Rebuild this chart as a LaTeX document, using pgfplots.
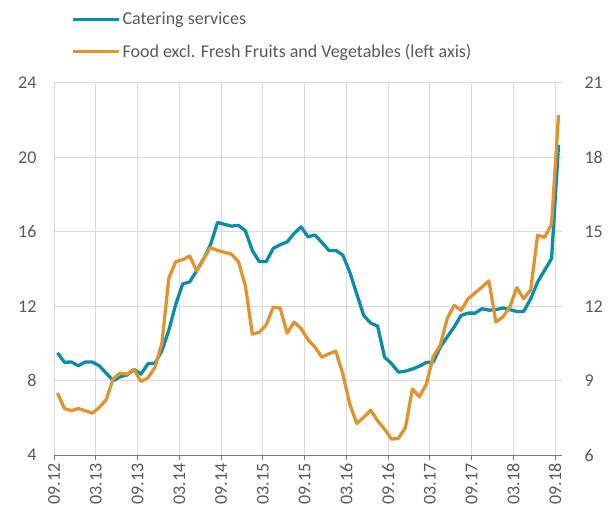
\documentclass[border=0pt]{standalone}
\usepackage{pgfplots}
\usepackage{pgfplotstable}
\pgfplotsset{compat=1.18}
\usepackage{fontspec}
\setmainfont{Carlito}
\definecolor{tealC}{HTML}{0B8CA9}
\definecolor{orangeC}{HTML}{E09430}
\definecolor{txt}{HTML}{595959}
\definecolor{gridC}{HTML}{D9D9D9}

\pgfplotstableread{
x y
0.5 10.12
1.5 9.74
2.5 9.75
3.5 9.6
4.5 9.75
5.5 9.75
6.5 9.6
7.5 9.3
8.5 9.0
9.5 9.15
10.5 9.23
11.5 9.45
12.5 9.26
13.5 9.68
14.5 9.7
15.5 10.2
16.5 11.03
17.5 12.08
18.5 12.9
19.5 12.98
20.5 13.43
21.5 13.91
22.5 14.48
23.5 15.38
24.5 15.3
25.5 15.23
26.5 15.26
27.5 15.04
28.5 14.25
29.5 13.8
30.5 13.8
31.5 14.33
32.5 14.48
33.5 14.59
34.5 14.93
35.5 15.2
36.5 14.8
37.5 14.87
38.5 14.57
39.5 14.25
40.5 14.25
41.5 14.06
42.5 13.38
43.5 12.5
44.5 11.63
45.5 11.32
46.5 11.2
47.5 9.95
48.5 9.68
49.5 9.34
50.5 9.38
51.5 9.47
52.5 9.58
53.5 9.73
54.5 9.75
55.5 10.35
56.5 10.76
57.5 11.16
58.5 11.63
59.5 11.72
60.5 11.72
61.5 11.9
62.5 11.84
63.5 11.86
64.5 11.93
65.5 11.86
66.5 11.79
67.5 11.79
68.5 12.3
69.5 12.98
70.5 13.45
71.5 13.92
72.5 18.5
}\tealdata

\pgfplotstableread{
x y
0.5 7.33
1.5 6.5
2.5 6.38
3.5 6.5
4.5 6.38
5.5 6.25
6.5 6.55
7.5 6.97
8.5 8.1
9.5 8.4
10.5 8.35
11.5 8.6
12.5 7.95
13.5 8.15
14.5 8.7
15.5 10.0
16.5 13.5
17.5 14.4
18.5 14.5
19.5 14.7
20.5 13.9
21.5 14.55
22.5 15.15
23.5 15.0
24.5 14.9
25.5 14.8
26.5 14.4
27.5 13.1
28.5 10.5
29.5 10.6
30.5 11.0
31.5 11.95
32.5 11.9
33.5 10.55
34.5 11.15
35.5 10.8
36.5 10.2
37.5 9.8
38.5 9.26
39.5 9.44
40.5 9.58
41.5 8.36
42.5 6.74
43.5 5.7
44.5 6.02
45.5 6.41
46.5 5.84
47.5 5.39
48.5 4.85
49.5 4.9
50.5 5.48
51.5 7.55
52.5 7.13
53.5 7.8
54.5 9.3
55.5 9.9
56.5 11.33
57.5 12.05
58.5 11.78
59.5 12.4
60.5 12.71
61.5 13.03
62.5 13.36
63.5 11.15
64.5 11.42
65.5 11.96
66.5 13.0
67.5 12.4
68.5 12.89
69.5 15.82
70.5 15.7
71.5 16.41
72.5 22.28
}\orangedata

\pgfplotsset{
  base/.style={
    width=508pt, height=372pt, scale only axis,
    xmin=0, xmax=73,
    ticklabel style={font=\fontsize{18}{21}\selectfont, text=txt},
    y axis line style={draw=none},
    ytick style={draw=none},
    yticklabel style={/pgf/number format/assume math mode=true},
  }
}

\begin{document}
\begin{tikzpicture}
\begin{axis}[base,
  ymin=6, ymax=21, ytick={6,9,12,15,18,21},
  axis y line*=right,
  axis x line*=bottom,
  x axis line style={draw=txt!80, line width=0.9pt},
  xtick={0,6,...,72},
  xticklabels={09.12,03.13,09.13,03.14,09.14,03.15,09.15,03.16,09.16,03.17,09.17,03.18,09.18},
  xticklabel style={rotate=90, anchor=east},
  x tick style={draw=txt!80, line width=0.9pt},
  tick align=outside,
  major tick length=5pt,
  yticklabel style={xshift=14pt},
  grid=major,
  grid style={draw=gridC, line width=1pt},
  legend style={at={(rel axis cs:0,1)}, anchor=south west, xshift=14pt, yshift=20pt,
    draw=none, fill=none, font=\fontsize{18}{21}\selectfont, text=txt,
    row sep=14pt, legend cell align=left},
  legend image code/.code={\draw[#1] (0pt,0pt) -- (46pt,0pt);},
]
\addplot[tealC, line width=3.3pt, line join=round] table {\tealdata};
\addlegendentry{Catering services}
\addlegendimage{orangeC, line width=3.3pt}
\addlegendentry{Food excl. Fresh Fruits and Vegetables (left axis)}
\coordinate (bl) at (rel axis cs:0,0);
\coordinate (tr) at (rel axis cs:1,1);
\end{axis}
\begin{axis}[base,
  ymin=4, ymax=24, ytick={4,8,...,24},
  axis y line*=left,
  axis x line=none,
  yticklabel style={xshift=-14pt},
]
\addplot[orangeC, line width=3.3pt, line join=round] table {\orangedata};
\end{axis}
\pgfresetboundingbox
\path ([shift={(-54pt,-62pt)}]bl) rectangle ([shift={(46pt,83pt)}]tr);
\end{tikzpicture}
\end{document}
